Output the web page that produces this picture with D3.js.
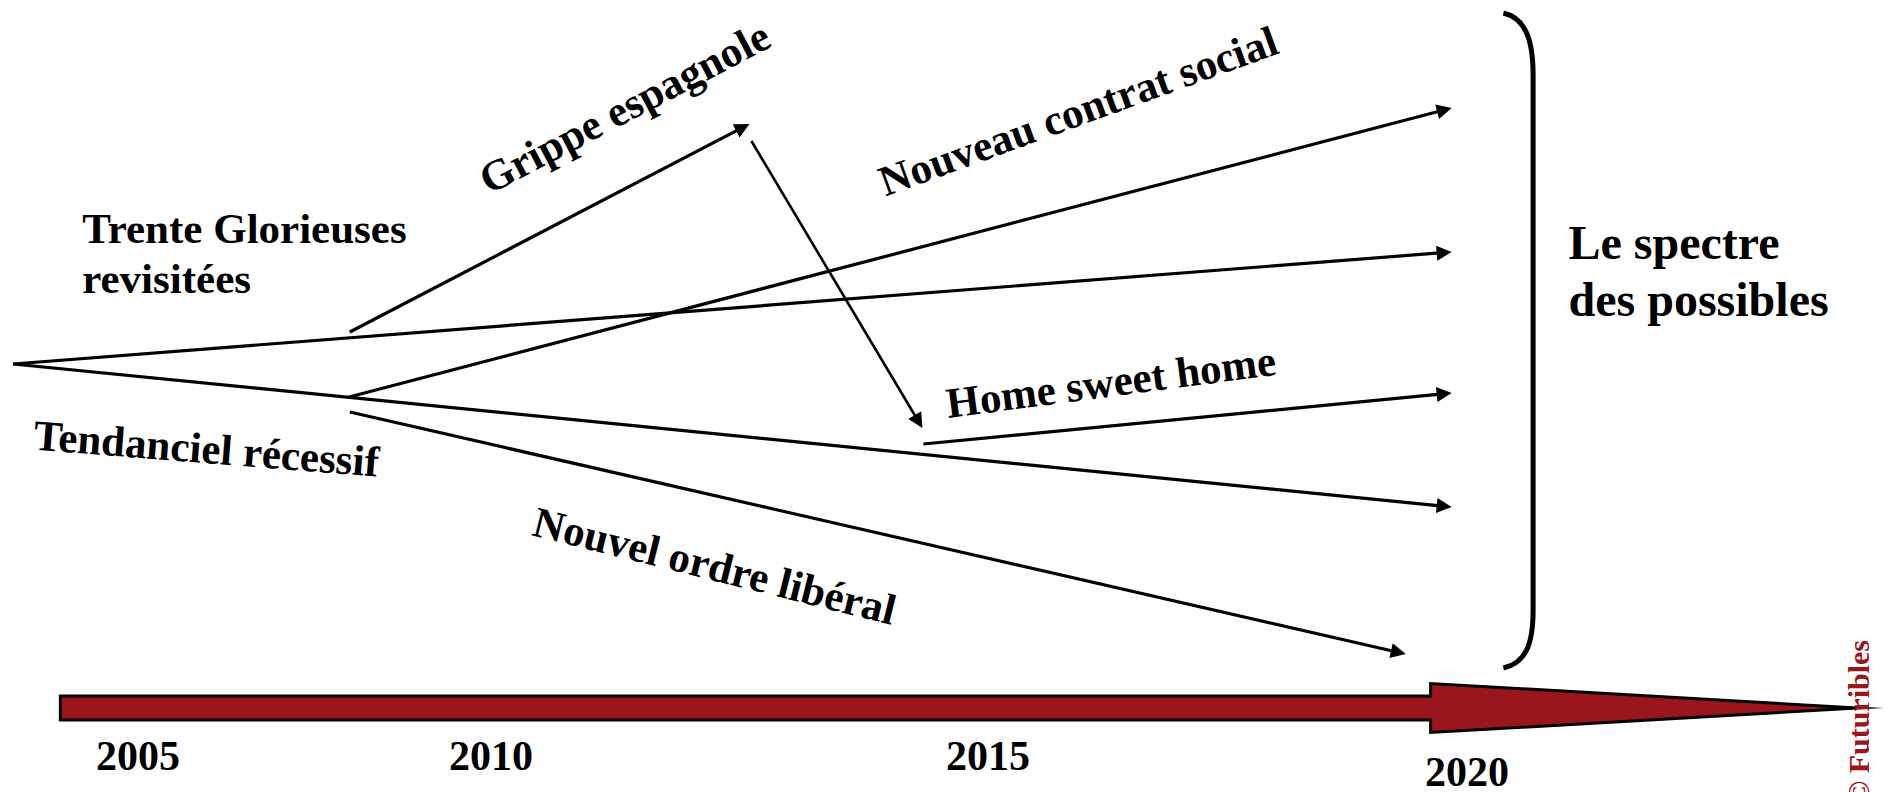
<!DOCTYPE html>
<html>
<head>
<meta charset="utf-8">
<script src="https://cdn.jsdelivr.net/npm/d3@7"></script>
<style>
  html, body { margin: 0; padding: 0; background: #fff; }
  svg { display: block; }
  text { font-family: "Liberation Serif", "Times New Roman", serif; font-weight: bold; fill: #000; }
</style>
</head>
<body>
<svg id="chart" width="1889" height="792"></svg>
<script>
// ---------- DATA (x in years, y in "level" units relative to the trend) ----------
const yearTicks = [2005, 2010, 2015, 2020];
const tickLabels = ["2005", "2010", "2015", "2020"];

const trendUp        = [[2003.23, 0], [2019.84, 4.48]];
const trendDown      = [[2003.23, 0], [2019.84, -5.72]];
const grippe         = [[2008.00, 1.28], [2012.60, 9.60]];
const grippeToHome   = [[2012.62, 8.92], [2014.34, -2.56]];
const homeSweetHome  = [[2014.35, -3.20], [2019.84, -1.16]];
const nouveauContrat = [[2007.99, -1.32], [2019.84, 10.24]];
const nouvelOrdre    = [[2008.00, -1.92], [2019.36, -11.60]];

const scenarioLabels = [
  { text: "Trente Glorieuses", year: 2004.21, level: 4.84, angle: 0 },
  { text: "revisitées", year: 2004.21, level: 2.84, angle: 0 },
  { text: "Tendanciel récessif", year: 2003.51, level: -3.42, angle: 4.5 },
  { text: "Grippe espagnole", year: 2009.97, level: 6.76, angle: -27.7 },
  { text: "Nouveau contrat social", year: 2013.97, level: 6.70, angle: -20 },
  { text: "Home sweet home", year: 2014.60, level: -2.16, angle: -7.5 },
  { text: "Nouvel ordre libéral", year: 2010.40, level: -6.84, angle: 14 }
];
const spectreLines = ["Le spectre", "des possibles"];
const spectrePos = { year: 2021.06, level: 4.2 };
const bracketSpan = { yearIn: 2020.38, yearOut: 2020.69, top: 14.04, bottom: -12.16 };
const timeline = { start: 2003.9, headStart: 2019.62, end: 2024.08 };
const credit = "© Futuribles";
const creditPos = { year: 2024.2, level: -11.04 };

// ---------- SCALES ----------
const x = d3.scaleLinear().domain(yearTicks).range([138, 491, 988, 1467]);
const y = d3.scaleLinear().domain([-10, 10]).range([614, 114]);

const svg = d3.select("#chart");

svg.append("defs").append("marker")
  .attr("id", "arr")
  .attr("viewBox", "0 0 10 10")
  .attr("refX", 10).attr("refY", 5)
  .attr("markerWidth", 17).attr("markerHeight", 15)
  .attr("markerUnits", "userSpaceOnUse")
  .attr("orient", "auto")
  .append("path").attr("d", "M0,0 L10,5 L0,10 Z").attr("fill", "#000");

// ---------- TIMELINE ARROW ----------
const axisY = y(-13.76); // centre line of the red arrow
const bodyHalf = 12, headHalf = 24.5;
const tl = [
  [x(timeline.start), axisY - bodyHalf],
  [x(timeline.headStart), axisY - bodyHalf],
  [x(timeline.headStart), axisY - headHalf],
  [x(timeline.end), axisY],
  [x(timeline.headStart), axisY + headHalf],
  [x(timeline.headStart), axisY + bodyHalf],
  [x(timeline.start), axisY + bodyHalf]
];
svg.append("path")
  .attr("d", d3.line()(tl) + "Z")
  .attr("fill", "#9b151c")
  .attr("stroke", "#000")
  .attr("stroke-width", 3)
  .attr("stroke-linejoin", "miter")
  .attr("stroke-miterlimit", 30);

// year labels
svg.selectAll("text.year").data(yearTicks).join("text")
  .attr("class", "year")
  .attr("x", d => x(d))
  .attr("y", d => d === 2020 ? 786 : 770)
  .attr("text-anchor", "middle")
  .attr("font-size", 42)
  .text((d, i) => tickLabels[i]);

// ---------- SCENARIO LINES ----------
function arrowLine(pts, width, arrow) {
  let p0 = [x(pts[0][0]), y(pts[0][1])];
  let p1 = [x(pts[1][0]), y(pts[1][1])];
  let q1 = p1;
  if (arrow) {
    const dx = p1[0] - p0[0], dy = p1[1] - p0[1];
    const L = Math.hypot(dx, dy);
    q1 = [p1[0] - dx / L * 9, p1[1] - dy / L * 9];
    svg.append("path")
      .attr("d", d3.line()([p0, p1]))
      .attr("stroke", "none").attr("fill", "none")
      .attr("marker-end", "url(#arr)");
  }
  svg.append("path")
    .attr("d", d3.line()([p0, q1]))
    .attr("stroke", "#000")
    .attr("stroke-width", width)
    .attr("fill", "none");
}
arrowLine(trendUp, 3.2, true);
arrowLine(trendDown, 3.2, true);
arrowLine(grippe, 3.2, true);
arrowLine(grippeToHome, 2.6, true);
arrowLine(homeSweetHome, 3.2, true);
arrowLine(nouveauContrat, 3.2, true);
arrowLine(nouvelOrdre, 3.2, true);

// ---------- LABELS ----------
svg.selectAll("text.lab").data(scenarioLabels).join("text")
  .attr("class", "lab")
  .attr("font-size", 43)
  .attr("transform", d => `translate(${x(d.year)},${y(d.level)}) rotate(${d.angle})`)
  .text(d => d.text);

// bracket
const bx0 = x(bracketSpan.yearIn), bx1 = x(bracketSpan.yearOut);
const bt = y(bracketSpan.top), bb = y(bracketSpan.bottom);
const bp = d3.path();
bp.moveTo(bx0, bt);
bp.bezierCurveTo(bx0 + 22, bt + 5, bx1, bt + 27, bx1, bt + 62);
bp.lineTo(bx1, bb - 58);
bp.bezierCurveTo(bx1, bb - 23, bx0 + 22, bb - 5, bx0, bb);
svg.append("path").attr("d", bp.toString())
  .attr("fill", "none").attr("stroke", "#000").attr("stroke-width", 5);

// spectre text
svg.append("text")
  .attr("x", x(spectrePos.year)).attr("y", y(spectrePos.level))
  .attr("font-size", 48)
  .selectAll("tspan").data(spectreLines).join("tspan")
  .attr("x", x(spectrePos.year))
  .attr("dy", (d, i) => i === 0 ? 0 : 57)
  .text(d => d);

// credit
svg.append("text")
  .attr("transform", `translate(${x(creditPos.year)},${y(creditPos.level)}) rotate(-90)`)
  .attr("text-anchor", "end")
  .attr("font-size", 30)
  .attr("font-family", "'DejaVu Serif', serif")
  .style("fill", "#9b151c")
  .text(credit);
</script>
</body>
</html>
